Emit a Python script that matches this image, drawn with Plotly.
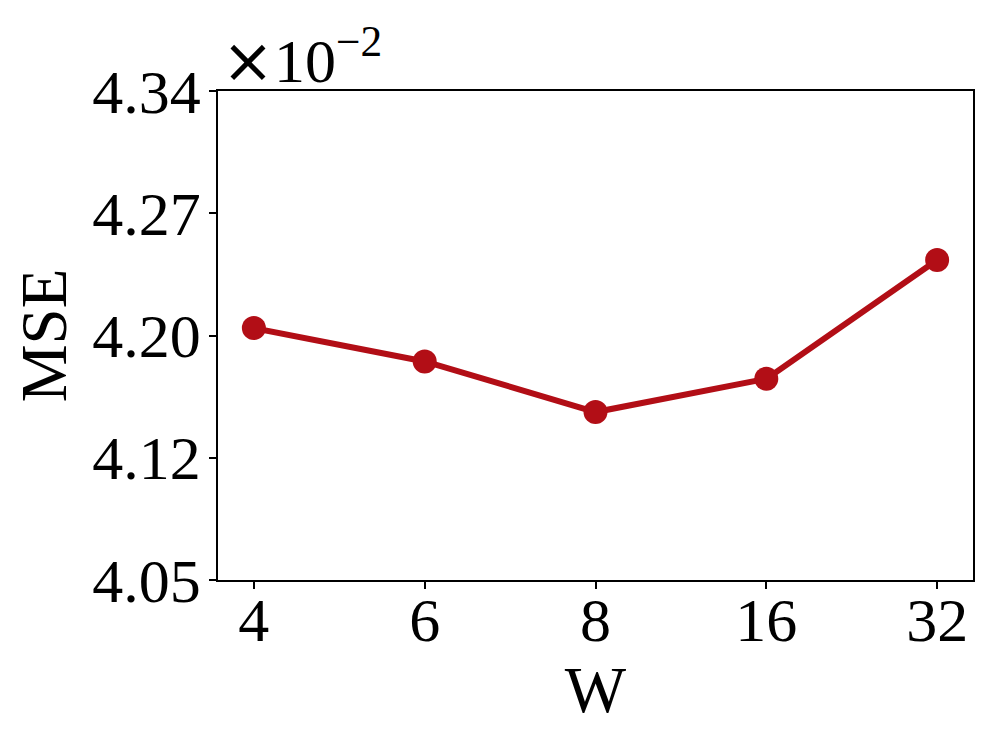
import numpy as np
import plotly.graph_objects as go

W_labels = ["4", "6", "8", "16", "32"]
mse = [4.1994, 4.1796, 4.1496, 4.1693, 4.2398]
y_min, y_max = 4.05, 4.34
y_ticktext = ["4.05", "4.12", "4.20", "4.27", "4.34"]
y_tickvals = list(np.linspace(y_min, y_max, len(y_ticktext)))

color = "#B20E16"
font = "Liberation Serif, Times New Roman, serif"

fig = go.Figure()
fig.add_trace(go.Scatter(
    x=W_labels, y=mse, mode="lines+markers",
    line=dict(color=color, width=6),
    marker=dict(color=color, size=24),
    showlegend=False,
))

axis_common = dict(
    showline=True, linecolor="black", linewidth=1.5, mirror=True,
    ticks="outside", tickcolor="black", tickwidth=1.5,
    showgrid=False, zeroline=False, automargin=True,
    tickfont=dict(family=font, size=62, color="black"),
)

fig.update_xaxes(
    type="category", range=[-0.21, 4.21], ticklen=7, ticklabelstandoff=-22,
    title=dict(text="W", font=dict(family=font, size=65, color="black"), standoff=0),
    **axis_common,
)
fig.update_yaxes(
    range=[y_min, y_max], tickvals=y_tickvals, ticktext=y_ticktext, ticklen=7,
    ticklabelstandoff=-4,
    title=dict(text="MSE", font=dict(family=font, size=65, color="black"), standoff=14),
    **axis_common,
)

fig.add_annotation(
    text='<span style="font-family:DejaVu Sans">×</span>10<sup>−2</sup>',
    xref="paper", yref="paper", x=0.0, y=1.0,
    xanchor="left", yanchor="bottom", showarrow=False, xshift=2, yshift=-8,
    font=dict(family=font, size=62, color="black"),
)

fig.update_layout(
    width=980, height=731,
    margin=dict(l=210, r=15, t=83, b=159),
    paper_bgcolor="white", plot_bgcolor="white",
)

fig.write_html("out.html")
